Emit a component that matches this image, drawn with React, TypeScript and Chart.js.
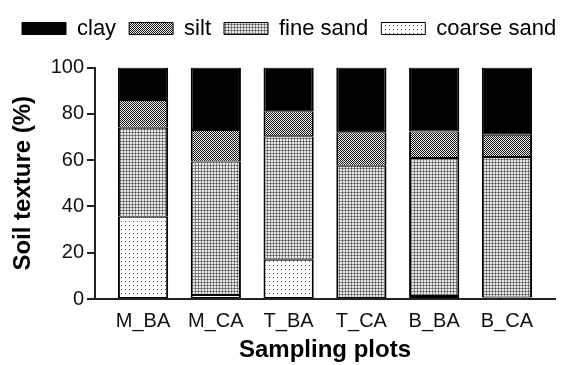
import React, { useEffect, useRef } from "react";
import { Chart, registerables } from "chart.js";

Chart.register(...registerables);

// Soil texture composition (%) per sampling plot, stacked bottom to top
const PLOTS = ["M_BA", "M_CA", "T_BA", "T_CA", "B_BA", "B_CA"];
const COARSE_SAND = [35.5, 1.7, 17.0, 0.4, 1.3, 0.6];
const FINE_SAND = [38.5, 57.7, 53.3, 57.2, 59.6, 60.7];
const SILT = [12.0, 13.6, 10.8, 14.4, 11.5, 9.7];
const CLAY = [14.0, 27.0, 18.9, 28.0, 27.6, 29.0];
const Y_TICKS = [0, 20, 40, 60, 80, 100];

const FONT = 'Arial, "Liberation Sans", Helvetica, sans-serif';

function makePattern(size: number, draw: (g: CanvasRenderingContext2D) => void) {
  const c = document.createElement("canvas");
  c.width = size;
  c.height = size;
  const g = c.getContext("2d") as CanvasRenderingContext2D;
  draw(g);
  return g.createPattern(c, "repeat") as CanvasPattern;
}

function px(g: CanvasRenderingContext2D, x: number, y: number, color: string) {
  g.fillStyle = color;
  g.fillRect(x, y, 1, 1);
}

export default function App() {
  const canvasRef = useRef<HTMLCanvasElement | null>(null);

  useEffect(() => {
    document.body.style.margin = "0";
    const canvas = canvasRef.current;
    if (!canvas) return;

    // hatch fills
    const coarse = makePattern(4, (g) => {
      g.fillStyle = "#ffffff";
      g.fillRect(0, 0, 4, 4);
      px(g, 1, 1, "#555555");
    });
    const fine = makePattern(3, (g) => {
      g.fillStyle = "#e8e8e8";
      g.fillRect(0, 0, 3, 3);
      for (let i = 0; i < 3; i++) {
        px(g, i, 0, "#8c8c8c");
        px(g, 0, i, "#8c8c8c");
      }
      px(g, 0, 0, "#555555");
    });
    const silt = makePattern(2, (g) => {
      g.fillStyle = "#f2f2f2";
      g.fillRect(0, 0, 2, 2);
      px(g, 0, 0, "#111111");
      px(g, 1, 1, "#111111");
    });

    const toPoints = (arr: number[]) => arr.map((y, i) => ({ x: i, y }));
    const segBorder = { left: 2, right: 2, top: 1, bottom: 1 };

    const chart = new Chart(canvas, {
      type: "bar",
      data: {
        datasets: [
          { label: "coarse sand", data: toPoints(COARSE_SAND), backgroundColor: coarse },
          { label: "fine sand", data: toPoints(FINE_SAND), backgroundColor: fine },
          { label: "silt", data: toPoints(SILT), backgroundColor: silt },
          { label: "clay", data: toPoints(CLAY), backgroundColor: "#000000" },
        ],
      },
      options: {
        animation: false,
        responsive: false,
        devicePixelRatio: 1,
        layout: { padding: { top: 4.5, left: 9, right: 0, bottom: 0 } },
        datasets: {
          bar: {
            borderColor: "#000000",
            borderWidth: segBorder,
            borderSkipped: false,
            barPercentage: 0.69,
            categoryPercentage: 1,
          },
        },
        plugins: {
          tooltip: { enabled: false },
          legend: {
            display: true,
            position: "top",
            align: "start",
            reverse: true,
            labels: {
              boxWidth: 44,
              boxHeight: 12,
              padding: 13,
              color: "#000000",
              font: { family: FONT, size: 22 },
              generateLabels: (c: Chart) =>
                Chart.defaults.plugins.legend.labels
                  .generateLabels(c)
                  .map((l: any) => ({ ...l, lineWidth: 1, strokeStyle: "#000000" })),
            },
          },
        },
        scales: {
          x: {
            type: "linear",
            min: -0.66,
            max: 5.66,
            stacked: true,
            offset: false,
            afterBuildTicks: (s: any) => {
              s.ticks = PLOTS.map((_, i) => ({ value: i }));
            },
            ticks: {
              autoSkip: false,
              maxRotation: 0,
              padding: 10,
              color: "#111111",
              font: { family: FONT, size: 20 },
              callback: (v: any) => PLOTS[Number(v)] ?? "",
            },
            grid: { display: false, drawTicks: false, offset: false },
            border: { display: true, color: "#222222", width: 2 },
            title: {
              display: true,
              text: "Sampling plots",
              color: "#000000",
              font: { family: FONT, size: 24, weight: "bold" },
              padding: { top: 0, bottom: 0 },
            },
            afterFit: (s: any) => {
              s.height = 66;
            },
          },
          y: {
            stacked: true,
            min: 0,
            max: 100,
            afterBuildTicks: (s: any) => {
              s.ticks = Y_TICKS.map((v) => ({ value: v }));
            },
            ticks: {
              padding: 3,
              color: "#111111",
              font: { family: FONT, size: 20 },
            },
            grid: {
              display: true,
              drawOnChartArea: false,
              drawTicks: true,
              tickLength: 8,
              color: "#222222",
              lineWidth: 2,
            },
            border: { display: true, color: "#222222", width: 2 },
            title: {
              display: true,
              text: "Soil texture (%)",
              color: "#000000",
              font: { family: FONT, size: 24, weight: "bold" },
              padding: { top: 0, bottom: 0 },
            },
            afterFit: (s: any) => {
              s.width = 86;
            },
          },
          // spacer boxes that set the gaps above and right of the plot area
          xTop: {
            type: "linear",
            position: "top",
            display: true,
            grid: { display: false, drawTicks: false },
            border: { display: false },
            ticks: { display: false },
            afterFit: (s: any) => {
              s.height = 18;
            },
          },
          yRight: {
            type: "linear",
            position: "right",
            display: true,
            grid: { display: false, drawTicks: false },
            border: { display: false },
            ticks: { display: false },
            afterFit: (s: any) => {
              s.width = 20;
            },
          },
        },
      } as any,
    });

    return () => chart.destroy();
  }, []);

  return (
    <div style={{ width: 575, height: 365, background: "#ffffff" }}>
      <canvas ref={canvasRef} width={575} height={365} />
    </div>
  );
}
